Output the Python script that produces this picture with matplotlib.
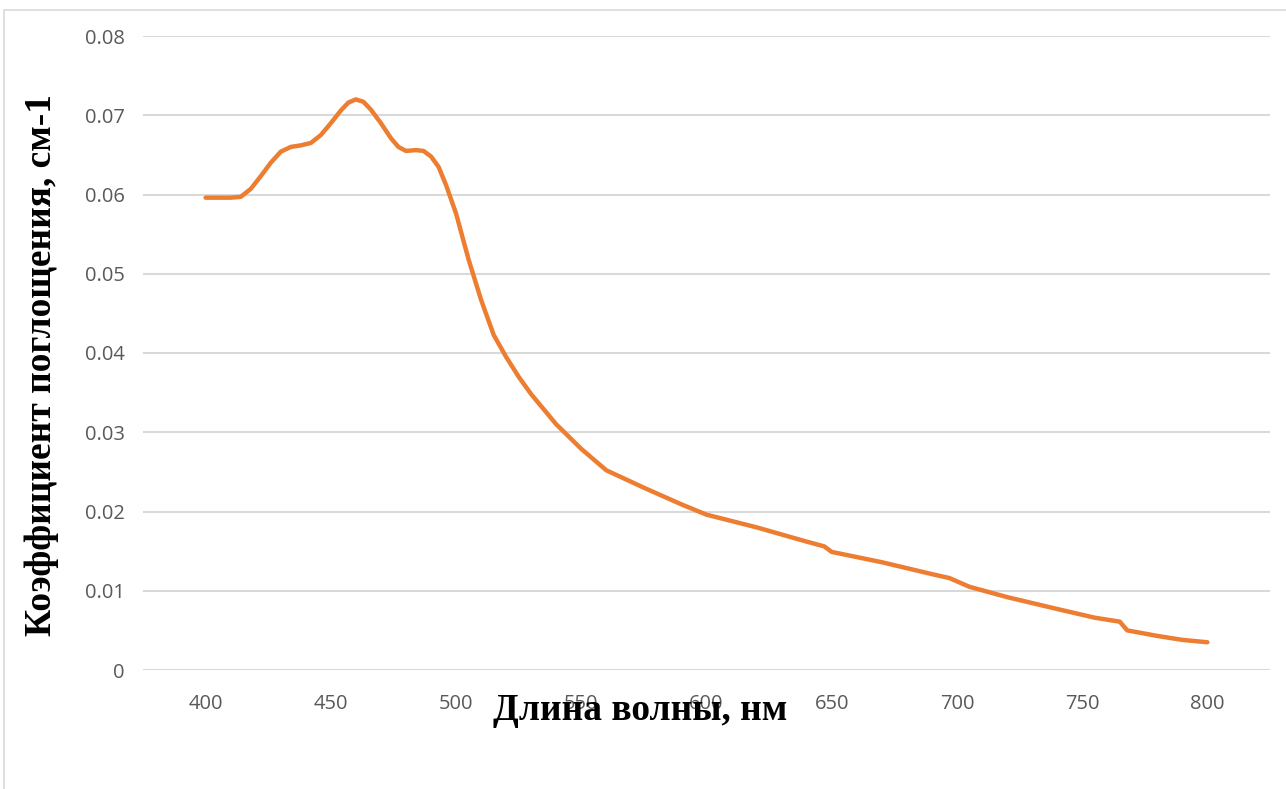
"""Absorption spectrum: absorption coefficient vs wavelength"""

import matplotlib.pyplot as plt
from matplotlib.patches import Rectangle

# wavelength, nm
wavelength = [400, 405, 410, 414, 418, 422, 426, 430, 434, 438,
              442, 446, 450, 454, 457, 460, 463, 466, 470, 474,
              477, 480, 484, 487, 490, 493, 496, 500, 505, 510,
              515, 520, 525, 530, 540, 550, 560, 575, 590, 600,
              620, 640, 647, 650, 670, 690, 697, 705, 720, 740,
              755, 765, 768, 780, 790, 800]
# absorption coefficient, cm-1
absorb = [0.0596, 0.0596, 0.0596, 0.0597, 0.0607, 0.0623, 0.0640, 0.0654, 0.0660, 0.0662,
          0.0665, 0.0675, 0.0690, 0.0706, 0.0716, 0.0720, 0.0717, 0.0707, 0.0690, 0.0671,
          0.0660, 0.0655, 0.0656, 0.0655, 0.0648, 0.0635, 0.0612, 0.0576, 0.0518, 0.0467,
          0.0423, 0.0395, 0.0370, 0.0348, 0.0310, 0.0279, 0.0252, 0.0230, 0.0209, 0.0196,
          0.0180, 0.0162, 0.0156, 0.0149, 0.0136, 0.0121, 0.0116, 0.0105, 0.0092, 0.0077,
          0.0066, 0.0061, 0.0050, 0.0043, 0.0038, 0.0035]

x_ticks = [400, 450, 500, 550, 600, 650, 700, 750, 800]
y_ticks = [0, 0.01, 0.02, 0.03, 0.04, 0.05, 0.06, 0.07, 0.08]
y_labels = ['0', '0.01', '0.02', '0.03', '0.04', '0.05', '0.06', '0.07', '0.08']

fig = plt.figure(figsize=(12.86, 7.89), dpi=100)
ax = fig.add_axes([143 / 1286, 1 - 670 / 789, (1270 - 143) / 1286, (670 - 36) / 789])

# chart area border
fig.patches.append(Rectangle((4 / 1286, -0.05), 1.2, 1 - 10 / 789 + 0.05,
                             transform=fig.transFigure, fill=False,
                             edgecolor='#d9d9d9', linewidth=1.2))

ax.plot(wavelength, absorb, color='#ED7D31', linewidth=3.2,
        solid_capstyle='round', solid_joinstyle='round')

ax.set_xlim(375, 825)
ax.set_ylim(0, 0.08)
ax.set_xticks(x_ticks)
ax.set_yticks(y_ticks)
ax.set_yticklabels(y_labels)
ax.grid(axis='y', color='#d9d9d9', linewidth=1.5)
ax.set_axisbelow(True)
for s in ax.spines.values():
    s.set_visible(False)
ax.tick_params(length=0, labelsize=14.5, labelcolor='#595959', pad=13)
for lab in ax.get_xticklabels() + ax.get_yticklabels():
    lab.set_fontfamily('Open Sans')
ax.tick_params(axis='x', pad=17)

fig.text(640 / 1286, 1 - 710 / 789, 'Длина волны, нм', ha='center', va='center',
         fontsize=27, fontweight='bold', family='Liberation Serif')
fig.text(42 / 1286, 1 - 365 / 789, 'Коэффициент поглощения, см-1', ha='center', va='center',
         rotation=90, fontsize=27, fontweight='bold', family='Liberation Serif')

plt.savefig('out.png', dpi=100)
plt.close()
